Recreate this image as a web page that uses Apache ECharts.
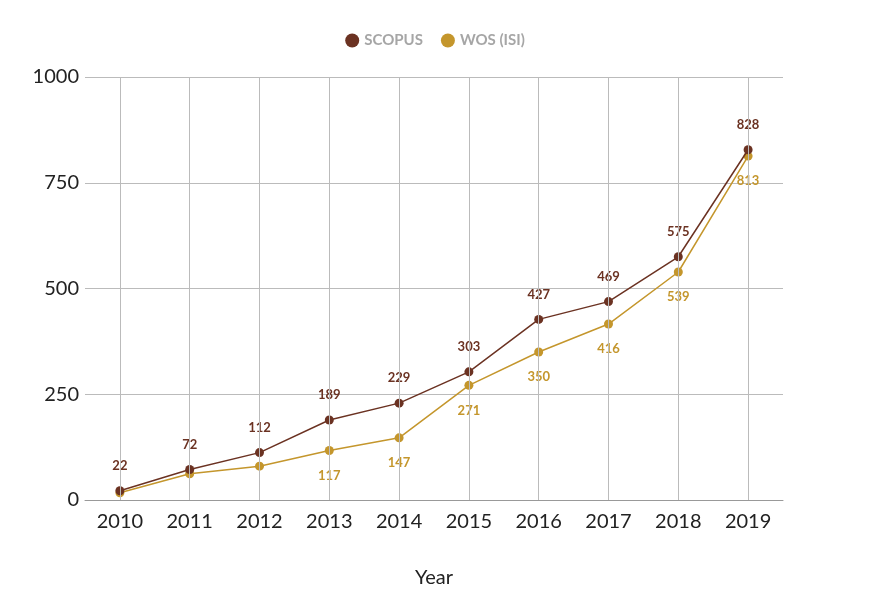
<!DOCTYPE html>
<html>
<head>
<meta charset="utf-8">
<script src="https://cdn.jsdelivr.net/npm/echarts@6/dist/echarts.min.js"></script>
<style>html,body{margin:0;padding:0;background:#fff}#chart{width:870px;height:604px}</style>
</head>
<body>
<div id="chart"></div>
<script>
var years = ['2010','2011','2012','2013','2014','2015','2016','2017','2018','2019'];
var scopus = [22, 72, 112, 189, 229, 303, 427, 469, 575, 828];
var wos = [17, 62, 80, 117, 147, 271, 350, 416, 539, 813];

var myChart = echarts.init(document.getElementById('chart'));
var font = 'Lato, "Open Sans", sans-serif';

function labelFor(color, pos) {
    return { show: true, position: pos, distance: 14, color: color, fontSize: 13, fontWeight: 'bold', fontFamily: font };
}

var option = {
    animation: false,
    legend: {
        top: 28, left: 'center', icon: 'circle', itemWidth: 14, itemHeight: 14, itemGap: 18,
        textStyle: { color: '#a6a6a6', fontSize: 15, fontWeight: 'bold', fontFamily: font }
    },
    grid: { left: 85, right: 87, top: 77, bottom: 104 },
    xAxis: {
        type: 'category', data: years, boundaryGap: true,
        name: 'Year', nameLocation: 'middle', nameGap: 68,
        nameTextStyle: { color: '#222', fontSize: 20, fontFamily: font },
        axisLine: { lineStyle: { color: '#999' } },
        axisTick: { show: false },
        axisLabel: { color: '#222', fontSize: 20, margin: 12, fontFamily: font },
        splitLine: { show: false }
    },
    yAxis: {
        type: 'value', min: 0, max: 1000, interval: 250,
        axisLine: { show: false }, axisTick: { show: false },
        axisLabel: { color: '#222', fontSize: 20, margin: 6, fontFamily: font, formatter: function (v) { return String(v); } },
        splitLine: { lineStyle: { color: '#bbb' } }
    },
    series: [
        {
            name: 'SCOPUS', type: 'line', data: scopus, color: '#6b3222',
            symbol: 'circle', symbolSize: 9, lineStyle: { width: 1.5 },
            label: labelFor('#6b3222', 'top'),
            markLine: {
                silent: true, symbol: 'none', label: { show: false },
                lineStyle: { color: '#bbb', type: 'solid', width: 1 },
                data: years.map(function (y) { return { xAxis: y }; })
            },
            z: 3
        },
        {
            name: 'WOS (ISI)', type: 'line', color: '#c4962c',
            symbol: 'circle', symbolSize: 9, lineStyle: { width: 1.5 },
            label: labelFor('#c4962c', 'bottom'),
            data: wos.map(function (v, i) {
                return i < 3 ? { value: v, label: { show: false } } : v;
            }),
            z: 2
        }
    ]
};
myChart.setOption(option);
</script>
</body>
</html>
